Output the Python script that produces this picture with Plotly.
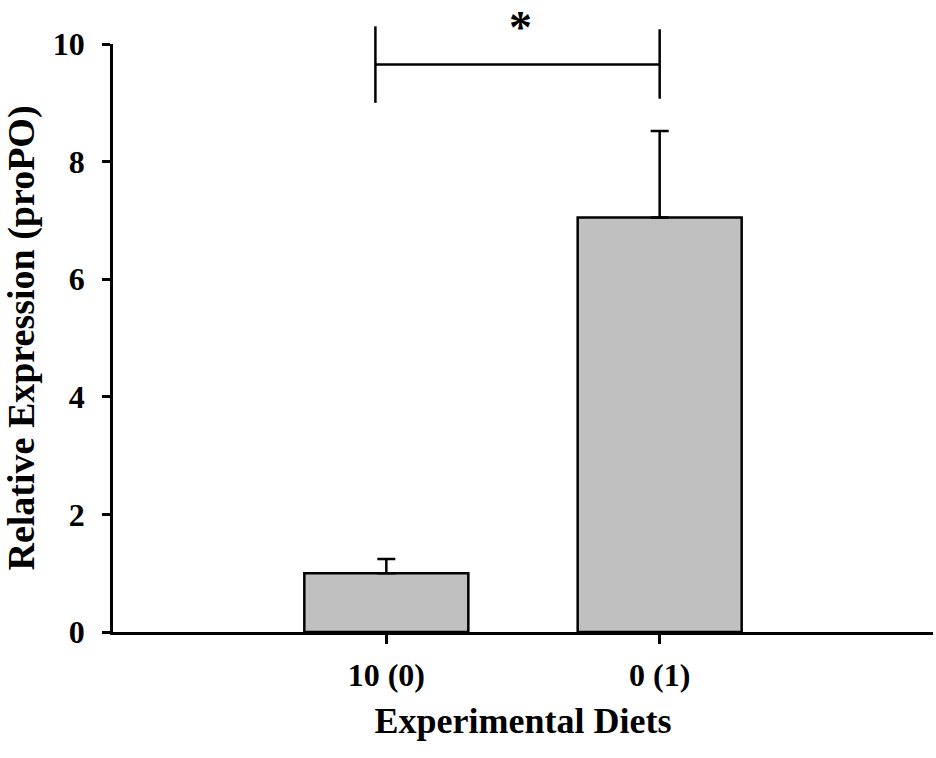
import plotly.graph_objects as go

# data
diets = ["10 (0)", "0 (1)"]
expression = [1.0, 7.05]
expression_err = [0.24, 1.47]

y_ticks = [0, 2, 4, 6, 8, 10]
y_max = 10

# significance bracket (data units): left leg, right leg, bar level
bracket_x = [-0.04, 1.0]
bracket_left = [9.0, 10.3]
bracket_right = [9.07, 10.25]
bracket_level = 9.65
star_x = 0.49
star_y = 10.74

FONT = "Liberation Serif"

fig = go.Figure()
fig.add_trace(go.Bar(
    x=diets,
    y=expression,
    width=0.6,
    marker=dict(color="#c0c0c0", line=dict(color="black", width=2.5)),
    error_y=dict(type="data", array=expression_err, arrayminus=[0, 0],
                 symmetric=False, color="black", thickness=2.5, width=9),
    showlegend=False,
))

def py(v):
    # data value -> paper fraction, so the bracket can sit above the axis
    return v / y_max

line = dict(color="black", width=2.5)
fig.add_shape(type="line", xref="x", yref="paper", x0=bracket_x[0], x1=bracket_x[0],
              y0=py(bracket_left[0]), y1=py(bracket_left[1]), line=line)
fig.add_shape(type="line", xref="x", yref="paper", x0=bracket_x[1], x1=bracket_x[1],
              y0=py(bracket_right[0]), y1=py(bracket_right[1]), line=line)
fig.add_shape(type="line", xref="x", yref="paper", x0=bracket_x[0], x1=bracket_x[1],
              y0=py(bracket_level), y1=py(bracket_level), line=line)
fig.add_annotation(x=star_x, y=py(star_y), xref="x", yref="paper", text="*",
                   yanchor="top", showarrow=False,
                   font=dict(family=FONT, size=46, weight="bold", color="black"))

fig.update_layout(
    width=936, height=758,
    margin=dict(l=113, r=3, t=44, b=126),
    plot_bgcolor="white", paper_bgcolor="white",
)
fig.update_xaxes(
    range=[-1, 2], showline=True, linecolor="black", linewidth=2.5,
    ticks="outside", ticklen=9, tickwidth=2.5, tickcolor="black",
    tickfont=dict(family=FONT, size=32, weight="bold", color="black"),
    ticklabelstandoff=4, automargin=False,
    title=dict(text="Experimental Diets", standoff=16,
               font=dict(family=FONT, size=36, weight="bold", color="black")),
    showgrid=False, zeroline=False,
)
fig.update_yaxes(
    range=[0, y_max], tickvals=y_ticks, showline=True, linecolor="black", linewidth=2.5,
    ticks="outside", ticklen=8, tickwidth=2.5, tickcolor="black",
    tickfont=dict(family=FONT, size=32, weight="bold", color="black"),
    ticklabelstandoff=11, automargin=False,
    title=dict(text="Relative Expression (proPO)", standoff=30,
               font=dict(family=FONT, size=38, weight="bold", color="black")),
    showgrid=False, zeroline=False,
)

# drop the default page margin so the figure fills the window
fig.write_html("out.html", config={"displayModeBar": False},
               post_script="document.body.style.margin = '0';")
